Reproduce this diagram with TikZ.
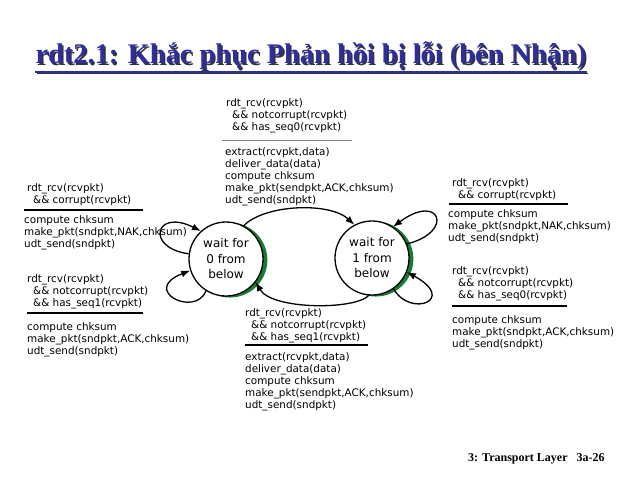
\documentclass[tikz,border=0pt]{standalone}
\usepackage{fontspec}
\setmainfont{DejaVu Sans}
\newfontfamily\titlefont{Liberation Serif}
\usetikzlibrary{arrows.meta}
\definecolor{titleblue}{RGB}{45,45,165}
\definecolor{stgreen}{RGB}{20,125,50}
\tikzset{
  lbl/.style={anchor=north west, inner sep=0pt, align=left,
    font=\fontsize{10.4pt}{12.2pt}\selectfont},
  arr/.style={line width=1.3pt, -{Latex[length=9pt,width=7pt]}},
  rulethick/.style={line width=1.6pt},
  rulethin/.style={line width=0.8pt, gray},
  state/.style={circle, draw, line width=1.3pt, fill=white, minimum size=74pt,
    inner sep=0pt, align=center, font=\fontsize{12pt}{15.5pt}\selectfont},
  titletext/.style={font=\titlefont\bfseries\fontsize{28.4pt}{30pt}\selectfont, inner sep=0pt},
}
\begin{document}
\begin{tikzpicture}[x=1pt,y=-1pt]
\useasboundingbox (0,0) rectangle (640,480);
% title
\node[titletext, text=black!80] (tshadow) at (312.5,57.5) {rdt2.1: Khắc phục Phản hồi bị lỗi (bên Nhận)};
\node[titletext, text=titleblue] (title) at (311,56) {rdt2.1: Khắc phục Phản hồi bị lỗi (bên Nhận)};
\draw[black!80, line width=1.8pt] (tshadow.south west) ++(0,2) coordinate (ul2) -- (tshadow.south east |- ul2);
\draw[titleblue, line width=1.8pt] (title.south west) ++(0,2) coordinate (ul1) -- (title.south east |- ul1);
% states
\coordinate (c0) at (226,259);
\coordinate (c1) at (372,258);
\fill[stgreen] (c0) ++(15:4) circle (37.5);
\fill[stgreen] (c1) ++(15:4) circle (37.5);
\node[state] (s0) at (c0) {wait for\\0 from\\below};
\node[state] (s1) at (c1) {wait for\\1 from\\below};
% transitions
\draw[arr] (s0.62) .. controls (265,204) and (330,202) .. (s1.118);
\draw[arr] (s1.-95) .. controls (355,310) and (272,310) .. (s0.-38);
\draw[arr] (s0.172) .. controls (145,248) and (155,208) .. (s0.132);
\draw[arr] (s0.238) .. controls (195,318) and (140,290) .. (s0.198);
\draw[arr] (s1.22) .. controls (455,232) and (440,192) .. (s1.56);
\draw[arr] (s1.-55) .. controls (410,318) and (458,300) .. (s1.-22);
% top label
\node[lbl] (g01) at (226,98) {rdt\_rcv(rcvpkt)\\\hspace{6pt}\&\& notcorrupt(rcvpkt)\\\hspace{6pt}\&\& has\_seq0(rcvpkt)};
\draw[rulethin] (222,140) -- (352,140);
\node[lbl] (a01) at (225,147) {extract(rcvpkt,data)\\deliver\_data(data)\\compute chksum\\make\_pkt(sendpkt,ACK,chksum)\\udt\_send(sndpkt)};
% left top label
\node[lbl] (g00a) at (27,183) {rdt\_rcv(rcvpkt)\\\hspace{6pt}\&\& corrupt(rcvpkt)};
\draw[rulethick] (24,210) -- (143,210);
\node[lbl] (a00a) at (24,215) {compute chksum\\make\_pkt(sndpkt,NAK,chksum)\\udt\_send(sndpkt)};
% left bottom label
\node[lbl] (g00b) at (27,274) {rdt\_rcv(rcvpkt)\\\hspace{6pt}\&\& notcorrupt(rcvpkt)\\\hspace{6pt}\&\& has\_seq1(rcvpkt)};
\draw[rulethick] (27,313) -- (143,313);
\node[lbl] (a00b) at (27,322) {compute chksum\\make\_pkt(sndpkt,ACK,chksum)\\udt\_send(sndpkt)};
% right top label
\node[lbl] (g11a) at (452,178) {rdt\_rcv(rcvpkt)\\\hspace{6pt}\&\& corrupt(rcvpkt)};
\draw[rulethick] (449,204) -- (568,204);
\node[lbl] (a11a) at (448,209) {compute chksum\\make\_pkt(sndpkt,NAK,chksum)\\udt\_send(sndpkt)};
% right bottom label
\node[lbl] (g11b) at (452,266) {rdt\_rcv(rcvpkt)\\\hspace{6pt}\&\& notcorrupt(rcvpkt)\\\hspace{6pt}\&\& has\_seq0(rcvpkt)};
\draw[rulethick] (452,306) -- (567,306);
\node[lbl] (a11b) at (452,315) {compute chksum\\make\_pkt(sndpkt,ACK,chksum)\\udt\_send(sndpkt)};
% bottom label
\node[lbl] (g10) at (245,308) {rdt\_rcv(rcvpkt)\\\hspace{6pt}\&\& notcorrupt(rcvpkt)\\\hspace{6pt}\&\& has\_seq1(rcvpkt)};
\draw[rulethick] (245,345) -- (368,345);
\node[lbl] (a10) at (245,352) {extract(rcvpkt,data)\\deliver\_data(data)\\compute chksum\\make\_pkt(sendpkt,ACK,chksum)\\udt\_send(sndpkt)};
% footer
\node[anchor=west, inner sep=0pt, font=\titlefont\bfseries\fontsize{12pt}{13pt}\selectfont] (foot) at (468,459) {3: Transport Layer\hspace{9pt}3a-26};
\end{tikzpicture}
\end{document}
